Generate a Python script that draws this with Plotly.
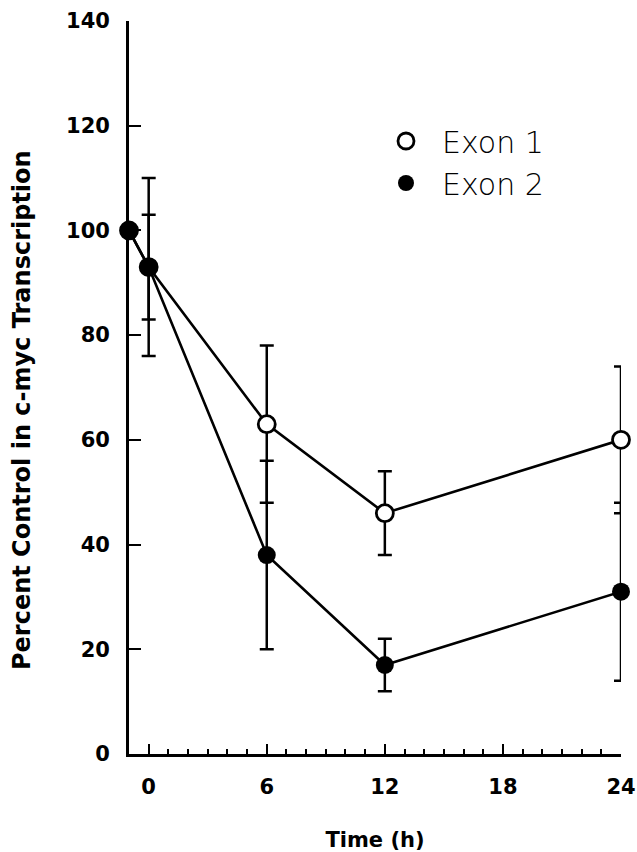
import plotly.graph_objects as go

# Data
time_h = [-1, 0, 6, 12, 24]
exon1 = [100, 93, 63, 46, 60]
exon1_err = [0, 10, 15, 8, 14]
exon2 = [100, 93, 38, 17, 31]
exon2_err = [0, 17, 18, 5, 17]
x_ticks = [0, 6, 12, 18, 24]
y_ticks = [0, 20, 40, 60, 80, 100, 120, 140]

BLACK = "#000000"
fig = go.Figure()

fig.add_trace(go.Scatter(
    x=time_h, y=exon1, mode="lines+markers", name="Exon 1", showlegend=False,
    line=dict(color=BLACK, width=2.6),
    marker=dict(symbol="circle", size=17, color="white", line=dict(color=BLACK, width=2.8)),
    error_y=dict(type="data", array=exon1_err, color=BLACK, thickness=2.5, width=7),
    cliponaxis=False,
))
fig.add_trace(go.Scatter(
    x=time_h, y=exon2, mode="lines+markers", name="Exon 2", showlegend=False,
    line=dict(color=BLACK, width=2.6),
    marker=dict(symbol="circle", size=18, color=BLACK, line=dict(color=BLACK, width=0)),
    error_y=dict(type="data", array=exon2_err, color=BLACK, thickness=2.5, width=7),
    cliponaxis=False,
))
# legend-only entries
fig.add_trace(go.Scatter(
    x=[None], y=[None], mode="markers", name="Exon 1",
    marker=dict(symbol="circle", size=16, color="white", line=dict(color=BLACK, width=2.8)),
))
fig.add_trace(go.Scatter(
    x=[None], y=[None], mode="markers", name="Exon 2",
    marker=dict(symbol="circle", size=16, color=BLACK, line=dict(color=BLACK, width=0)),
))

fig.update_layout(
    width=637, height=852,
    margin=dict(l=129, r=16, t=21, b=98, autoexpand=False),
    paper_bgcolor="white", plot_bgcolor="white",
    font=dict(family="DejaVu Sans", color=BLACK),
    legend=dict(
        x=(370 - 129) / 492, y=(754 - 115) / 733, xanchor="left", yanchor="top",
        bgcolor="rgba(0,0,0,0)", borderwidth=0,
        font=dict(family="DejaVu Sans", size=30, weight=200, color=BLACK),
        itemsizing="trace", itemwidth=62,
    ),
    xaxis=dict(
        range=[-1, 24], showgrid=False, zeroline=False,
        showline=True, linecolor=BLACK, linewidth=2.8,
        tickmode="array", tickvals=x_ticks, ticktext=[str(v) for v in x_ticks],
        ticks="inside", ticklen=10, tickwidth=2, tickcolor=BLACK,
        tickfont=dict(family="DejaVu Sans", size=21, weight="bold", color=BLACK),
        ticklabelstandoff=12,
        minor=dict(tick0=0, dtick=1, ticks="inside", ticklen=5, tickwidth=2, tickcolor=BLACK, showgrid=False),
        title=dict(text="Time (h)", font=dict(family="DejaVu Sans", size=21, weight="bold", color=BLACK), standoff=38),
    ),
    yaxis=dict(
        range=[0, 140], showgrid=False, zeroline=False,
        showline=True, linecolor=BLACK, linewidth=2.8,
        tickmode="array", tickvals=y_ticks, ticktext=[str(v) for v in y_ticks],
        ticks="inside", ticklen=12, tickwidth=2.2, tickcolor=BLACK,
        tickfont=dict(family="DejaVu Sans", size=21, weight="bold", color=BLACK),
        ticklabelstandoff=12,
    ),
    annotations=[dict(
        text="Percent Control in c-myc Transcription", textangle=-90,
        xref="paper", yref="paper", x=-129/492 + 22/492, y=(754-410)/733,
        xanchor="center", yanchor="middle", showarrow=False,
        font=dict(family="DejaVu Sans", size=24, weight="bold", color=BLACK),
    )],
)

fig.write_html("out.html")
